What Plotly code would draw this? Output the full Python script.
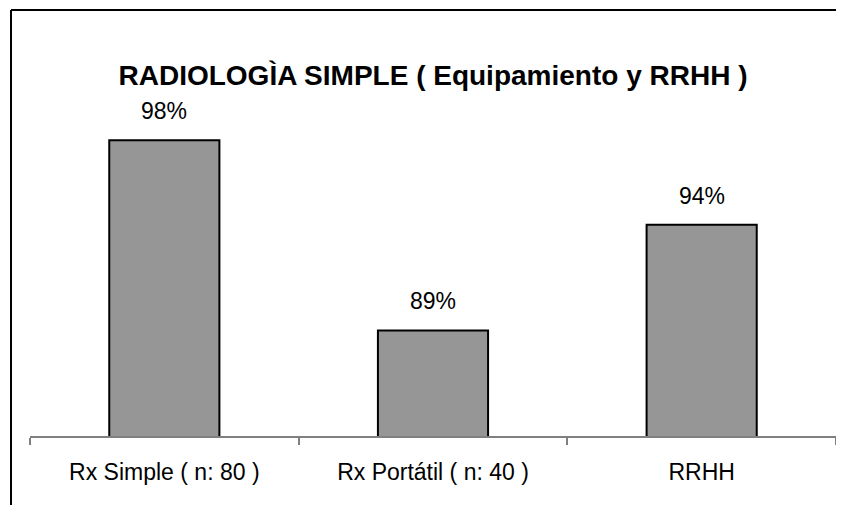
import plotly.graph_objects as go

categories = ["Rx Simple ( n: 80 )", "Rx Portátil ( n: 40 )", "RRHH"]
values = [98, 89, 94]
value_labels = [f"{v}%" for v in values]
title_text = "RADIOLOGÌA SIMPLE ( Equipamiento y RRHH )"

OFF = 8  # page body margin offset
W, H = 844 - 2 * OFF, 513 - 2 * OFF
ml, mr, mt, mb = 30 - OFF, 0, 98 - OFF, H - (436 - OFF)

fig = go.Figure(go.Bar(
    x=categories,
    y=values,
    width=0.41,
    marker=dict(color="#969696", line=dict(color="black", width=2)),
    cliponaxis=False,
    hoverinfo="x+y",
))

for c, v, t in zip(categories, values, value_labels):
    fig.add_annotation(x=c, y=v, text=t, showarrow=False, yanchor="bottom",
                       yshift=14,
                       font=dict(family="Liberation Sans, Arial", size=23, color="black"))

pw = W - ml - mr
ph = H - mt - mb
x_left = (11 - OFF - ml) / pw
y_top = (H - mb - (10 - OFF)) / ph
y_bot = (H - mb - H) / ph
x_right = (W - ml) / pw

fig.update_layout(
    width=W, height=H,
    margin=dict(l=ml, r=mr, t=mt, b=mb),
    paper_bgcolor="white",
    plot_bgcolor="white",
    showlegend=False,
    title=dict(text="<b>" + title_text + "</b>", x=(433 - OFF) / W, xanchor="center",
               y=1 - (75 - OFF) / H, yanchor="middle",
               font=dict(family="Liberation Sans, Arial", size=28, color="black")),
    xaxis=dict(
        showline=True, linecolor="#808080", linewidth=1.5,
        ticks="outside", tickson="boundaries", ticklen=7, tickcolor="#808080", tickwidth=1.5,
        tickfont=dict(family="Liberation Sans, Arial", size=23, color="black"),
        ticklabelstandoff=15,
        showgrid=False,
    ),
    yaxis=dict(range=[84, 100], visible=False, showgrid=False),
    shapes=[
        dict(type="line", xref="paper", yref="paper", x0=x_left, x1=x_left, y0=y_bot, y1=y_top,
             line=dict(color="black", width=2)),
        dict(type="line", xref="paper", yref="paper", x0=x_left, x1=x_right, y0=y_top, y1=y_top,
             line=dict(color="black", width=2)),
    ],
)

fig.write_html("out.html")
